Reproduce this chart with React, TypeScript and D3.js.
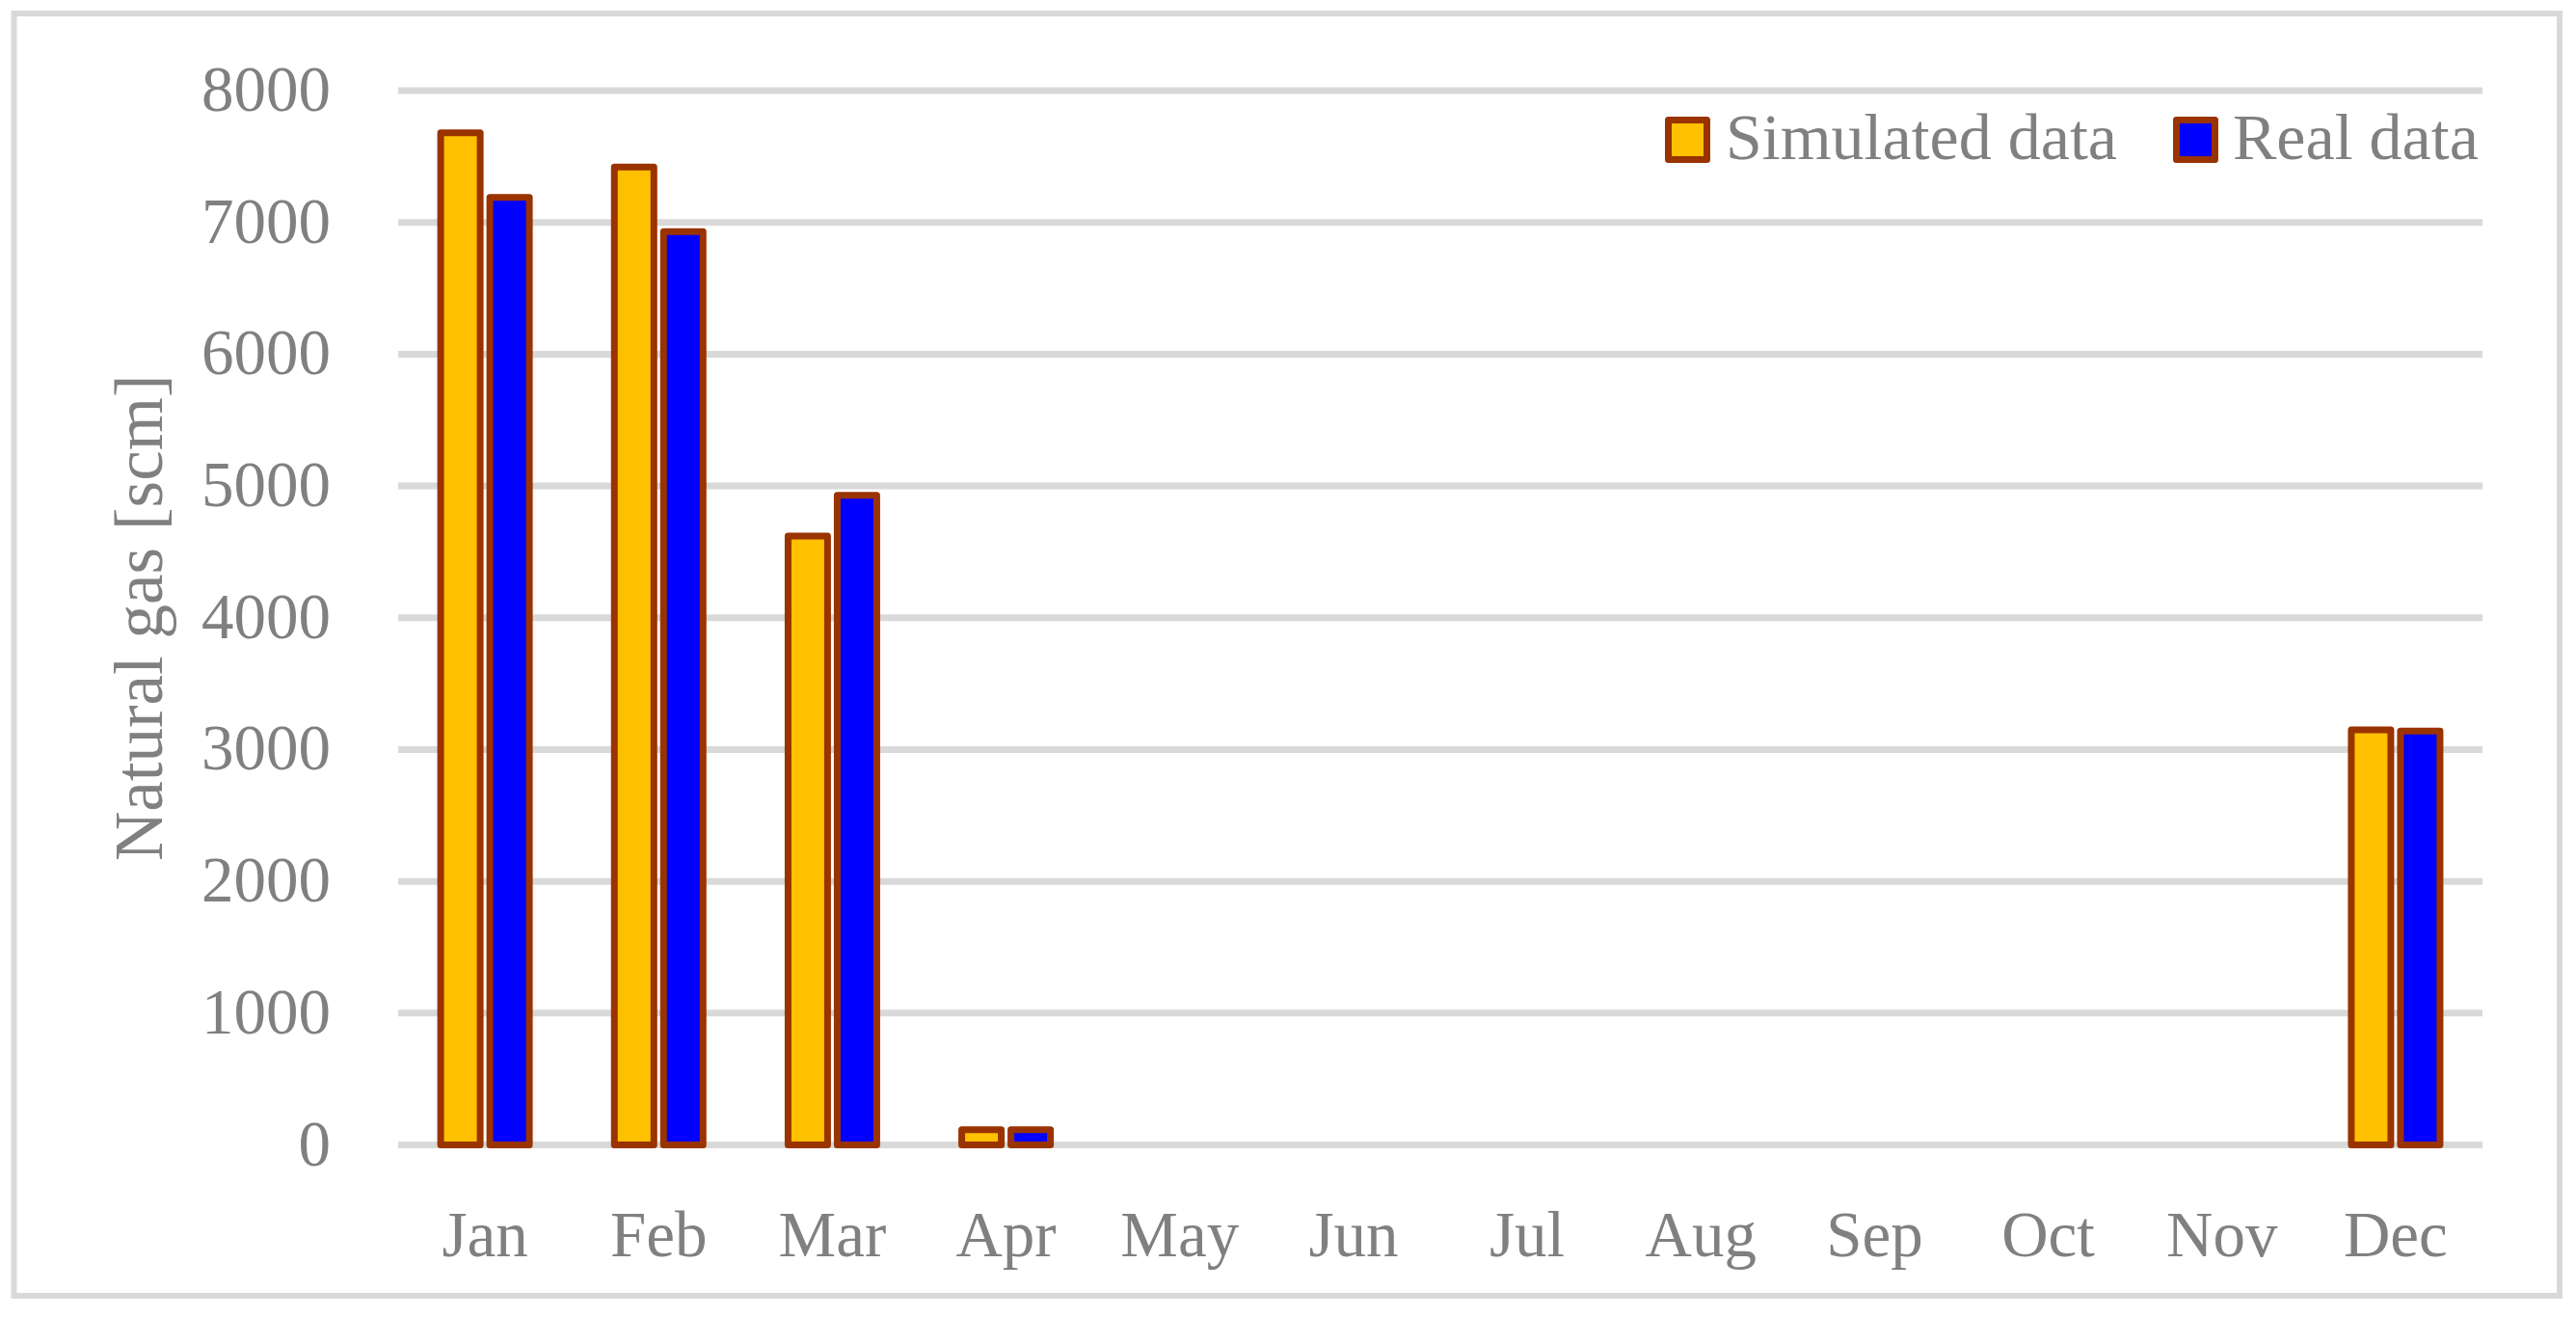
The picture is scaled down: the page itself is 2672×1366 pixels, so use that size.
import React from "react";
import * as d3 from "d3";

const months = ["Jan", "Feb", "Mar", "Apr", "May", "Jun", "Jul", "Aug", "Sep", "Oct", "Nov", "Dec"];
const simulatedData = [7680, 7420, 4620, 115, 0, 0, 0, 0, 0, 0, 0, 3150];
const realData = [7190, 6930, 4930, 115, 0, 0, 0, 0, 0, 0, 0, 3140];
const seriesNames = ["Simulated data", "Real data"];
const seriesColors = ["#FFC000", "#0000FF"];
const yTicks = [0, 1000, 2000, 3000, 4000, 5000, 6000, 7000, 8000];
const yTitle = "Natural gas [scm]";

const W = 2672;
const H = 1366;
const plot = { left: 413, right: 2575, top: 94, bottom: 1187.5 };
const FONT = "'Palatino Linotype', 'Book Antiqua', Palatino, 'Liberation Serif', serif";
const TEXT = "#808080";
const GRID = "#d9d9d9";
const EDGE = "#993300";

export default function App() {
  const x = d3.scaleBand<string>().domain(months).range([plot.left, plot.right]).padding(0);
  const x1 = d3.scaleBand<string>().domain(seriesNames).range([-51, 51]).padding(0);
  const y = d3.scaleLinear().domain([0, 8000]).range([plot.bottom, plot.top]);
  const barW = 41;
  const series = [simulatedData, realData];

  return (
    <svg width={W} height={H} style={{ position: "absolute", left: 0, top: 0, background: "#fff" }} fontFamily={FONT}>
      <rect x={0} y={0} width={W} height={H} fill="#fff" />
      <rect x={14.5} y={14} width={2640.5} height={1330} fill="none" stroke={GRID} strokeWidth={6} />
      {yTicks.map((t) => (
        <g key={t}>
          <line x1={plot.left} x2={plot.right} y1={y(t)} y2={y(t)} stroke={GRID} strokeWidth={7} />
          <text x={343} y={y(t) + 21} textAnchor="end" fontSize={67} fill={TEXT}>
            {t}
          </text>
        </g>
      ))}
      {months.map((m, i) => (
        <g key={m}>
          {series.map((vals, s) => {
            const v = vals[i];
            if (!v) return null;
            const cx = (x(m) as number) + x.bandwidth() / 2 + (x1(seriesNames[s]) as number) + x1.bandwidth() / 2;
            return (
              <rect
                key={s}
                x={cx - barW / 2}
                y={y(v)}
                width={barW}
                height={y(0) - y(v)}
                fill={seriesColors[s]}
                stroke={EDGE}
                strokeWidth={7}
                strokeLinejoin="round"
              />
            );
          })}
          <text x={(x(m) as number) + x.bandwidth() / 2} y={1303} textAnchor="middle" fontSize={67} fill={TEXT}>
            {m}
          </text>
        </g>
      ))}
      <text
        transform={`translate(168, ${(plot.top + plot.bottom) / 2}) rotate(-90)`}
        textAnchor="middle"
        fontSize={71}
        fill={TEXT}
      >
        {yTitle}
      </text>
      {/* legend */}
      <g>
        <rect x={1730.5} y={124.5} width={40} height={41} fill={seriesColors[0]} stroke={EDGE} strokeWidth={7} strokeLinejoin="round" />
        <text x={1790} y={165} fontSize={68} fill={TEXT}>{seriesNames[0]}</text>
        <rect x={2257.5} y={124.5} width={40} height={41} fill={seriesColors[1]} stroke={EDGE} strokeWidth={7} strokeLinejoin="round" />
        <text x={2316} y={165} fontSize={68} fill={TEXT}>{seriesNames[1]}</text>
      </g>
    </svg>
  );
}
